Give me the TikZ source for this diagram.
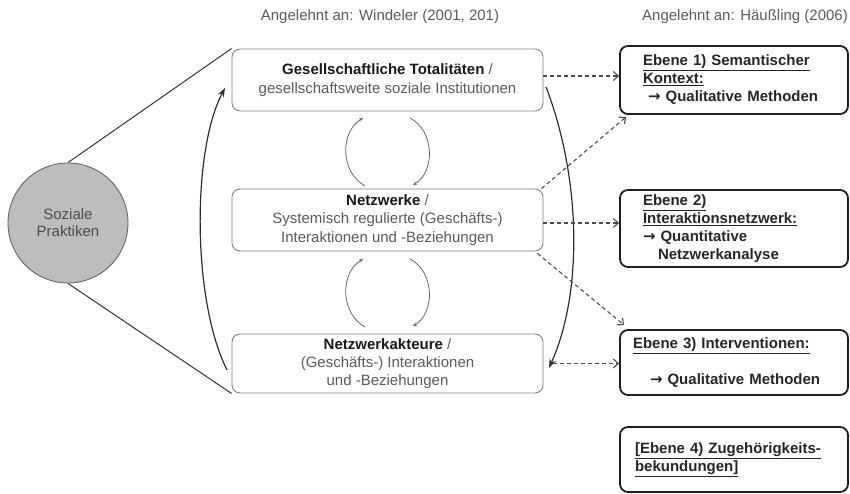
\documentclass[tikz,border=0pt]{standalone}
\usepackage{fontspec}
\setmainfont{Liberation Sans}
\newfontfamily\arrfont{DejaVu Sans}
\usetikzlibrary{arrows.meta}
\definecolor{txtgray}{HTML}{5A5A5A}
\definecolor{circfill}{HTML}{BDBDBD}
\newcommand{\rarr}{{\arrfont\bfseries →}}
\begin{document}
\begin{tikzpicture}[x=1pt,y=-1pt,
  every node/.style={font=\fontsize{15}{18.3}\selectfont},
  lbox/.style={draw=black!50, line width=0.9pt, rounded corners=8pt,
    minimum width=311pt, align=center, text=txtgray, inner sep=0pt},
  rbox/.style={draw=black!88, line width=1.8pt, rounded corners=8pt,
    minimum width=228pt, align=left, text=black!85, inner ysep=0pt,
    font=\bfseries\fontsize{15}{18}\selectfont},
  head/.style={text=txtgray},
  conn/.style={draw=black!82, line width=1.2pt, -{Stealth[length=9pt,width=6.5pt]}},
  cyc/.style={draw=black!60, line width=0.8pt, -{Stealth[length=4pt,width=3.5pt]}},
  dsh/.style={draw=black!70, line width=1.1pt, dash pattern=on 4pt off 3pt,
    -{Straight Barb[length=5pt,width=9pt]}},
  side/.style={draw=black!80, line width=1pt}
]
\useasboundingbox (0,0) rectangle (850,494);

% headings
\node[head] (h1) at (380,17) {Angelehnt an: Windeler (2001, 201)};
\node[head] (h2) at (745,17) {Angelehnt an: Häußling (2006)};

% circle
\node[circle, draw=black!60, line width=0.9pt, fill=circfill, minimum size=120pt,
  inner sep=0pt, align=center, text=black!70,
  font=\fontsize{15}{17}\selectfont] (C) at (68,223) {Soziale\\Praktiken};

% left boxes
\node[lbox, minimum height=62pt] (B1) at (387.5,80)
  {\textcolor{black!90}{\bfseries Gesellschaftliche Totalitäten} /\\gesellschaftsweite soziale Institutionen};
\node[lbox, minimum height=62pt] (B2) at (387.5,220)
  {\textcolor{black!90}{\bfseries Netzwerke} /\\Systemisch regulierte (Geschäfts-)\\Interaktionen und -Beziehungen};
\node[lbox, minimum height=59pt] (B3) at (387.5,363.5)
  {\textcolor{black!90}{\bfseries Netzwerkakteure} /\\(Geschäfts-) Interaktionen\\und -Beziehungen};

% right boxes
\node[rbox, minimum height=68pt, inner xsep=23pt, text width=182pt] (R1) at (734,80)
  {\underline{Ebene 1) Semantischer}\\\underline{Kontext:}\\\hspace*{5pt}\rarr\ Qualitative Methoden};
\node[rbox, minimum height=77pt, inner xsep=23pt, text width=182pt] (R2) at (734,228.5)
  {\underline{Ebene 2)}\\\underline{Interaktionsnetzwerk:}\\\rarr\ Quantitative\\\hspace*{15pt}Netzwerkanalyse};
\node[rbox, minimum height=65pt, inner xsep=13pt, text width=202pt] (R3) at (734,362.5)
  {\underline{Ebene 3) Interventionen:}\\[18pt]\hspace*{17pt}\rarr\ Qualitative Methoden};
\node[rbox, minimum height=65pt, inner xsep=15pt, text width=198pt] (R4) at (734,459.5)
  {\underline{[Ebene 4) Zugehörigkeits-}\\\underline{bekundungen]}};

% lines from circle
\draw[side] (C.north) -- (B1.north west);
\draw[side] (C.south) -- (B3.south west);

% big curved arrows
\coordinate (Lbot) at (227,370);
\coordinate (Ltop) at (225,88);
\draw[conn] (Lbot) .. controls (192,300) and (192,150) .. (Ltop);
\coordinate (Rtop) at (546,87);
\coordinate (Rbot) at (549,368);
\draw[conn] (Rtop) .. controls (580,175) and (584,290) .. (Rbot);

% cycle arrows
\coordinate (a1) at (365,186); \coordinate (a2) at (363,118);
\coordinate (a3) at (410,118); \coordinate (a4) at (413,185);
\draw[cyc] (a1) .. controls (340,172) and (340,132) .. (a2);
\draw[cyc] (a3) .. controls (435,131) and (435,172) .. (a4);
\coordinate (b1) at (365,327); \coordinate (b2) at (363,259);
\coordinate (b3) at (410,259); \coordinate (b4) at (413,326);
\draw[cyc] (b1) .. controls (340,313) and (340,273) .. (b2);
\draw[cyc] (b3) .. controls (435,272) and (435,313) .. (b4);

% dashed arrows
\draw[dsh] ([yshift=4pt]B1.east) -- ([yshift=4pt]B1.east -| R1.west);
\draw[dsh] ([xshift=-2pt]B2.north east) -- ([xshift=7pt,yshift=-2pt]R1.south west);
\draw[dsh] ([yshift=-3pt]B2.east) -- ([yshift=-3pt]B2.east -| R2.west);
\draw[dsh] ([xshift=-6pt,yshift=-2pt]B2.south east) -- ([xshift=5pt,yshift=4pt]R3.north west);
\draw[dsh] ([xshift=10pt]B3.east) -- (B3.east -| R3.west);
\end{tikzpicture}
\end{document}
